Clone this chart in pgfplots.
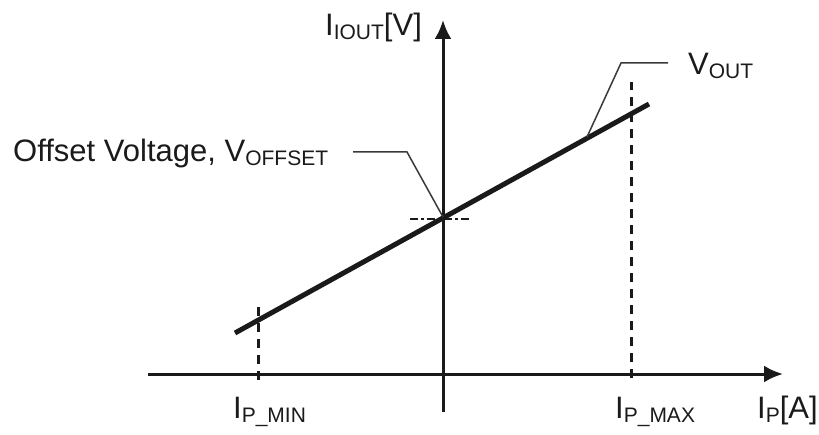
\documentclass[border=0pt]{standalone}
\usepackage{pgfplots}
\pgfplotsset{compat=1.18}
\usepackage{fontspec}
\setmainfont{Liberation Sans}
\usetikzlibrary{arrows.meta}
\definecolor{ink}{HTML}{1A1A1A}
\definecolor{lead}{HTML}{3A3A3A}
\newcommand\sub[1]{\raisebox{-4pt}{\fontsize{21}{21}\selectfont #1}}
\begin{document}
\begin{tikzpicture}
\begin{axis}[
  scale only axis, width=819pt, height=434pt,
  xmin=0, xmax=819, ymin=0, ymax=434,
  hide axis, clip=false,
]
\path (axis cs:0,0) rectangle (axis cs:819,434);
% axes
\addplot[ink, line width=3pt, -{Latex[length=19pt,width=17pt]}] coordinates {(148,60) (783,60)};
\addplot[ink, line width=3pt, -{Latex[length=19pt,width=17pt]}] coordinates {(443,22) (443,414)};
% dashed limits
\addplot[ink, line width=3pt, dash pattern=on 9pt off 7pt] coordinates {(258,54) (258,127)};
\addplot[ink, line width=3pt, dash pattern=on 9pt off 7pt] coordinates {(631,56) (631,352)};
% offset dash-dot
\addplot[ink, line width=1.5pt, dash pattern=on 8pt off 3pt on 3pt off 3pt] coordinates {(410,215) (470,215)};
% output line
\addplot[ink, line width=5pt] coordinates {(235,101) (649,330)};
% leaders
\addplot[lead, line width=1.5pt] coordinates {(668,371) (621,371) (587,297)};
\addplot[lead, line width=1.5pt] coordinates {(353,282) (407,282) (443,217)};
% labels
\begin{scope}[every node/.style={inner sep=0pt, anchor=base west, text=ink, font=\fontsize{31}{31}\selectfont}]
\node at (axis cs:325,398) {I\sub{IOUT}[V]};
\node at (axis cs:688,359) {V\sub{OUT}};
\node at (axis cs:13,272) {Offset Voltage, V\sub{OFFSET}};
\node at (axis cs:233,16) {I\sub{P\_MIN}};
\node at (axis cs:615,16) {I\sub{P\_MAX}};
\node at (axis cs:757,16) {I\sub{P}[A]};
\end{scope}
\end{axis}
\end{tikzpicture}
\end{document}
